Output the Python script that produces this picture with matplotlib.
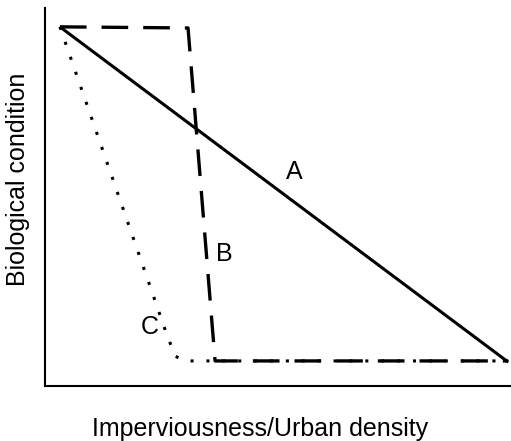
import matplotlib
matplotlib.use("Agg")
import matplotlib.pyplot as plt

plt.rcParams['font.family'] = ['Liberation Sans', 'DejaVu Sans']

# Curve A (linear decline)
a_x = [3.2, 99.4]
a_y = [95.0, 6.3]
# Curve B (threshold)
b_x = [3.2, 30.7, 36.5, 99.4]
b_y = [95.0, 94.7, 6.6, 6.6]
# Curve C (rapid early decline)
c_x = [3.2, 25.8, 27.9, 30.0, 99.4]
c_y = [95.0, 14.8, 7.9, 6.6, 6.6]

labels = ["A", "B", "C"]
label_x = [53.6, 38.4, 22.5]
label_y = [56.6, 34.9, 15.6]

fig = plt.figure(figsize=(5.11, 4.41), dpi=100)
ax = fig.add_axes([0.088, 0.125, 0.912, 0.857])

ax.plot(a_x, a_y, color='black', lw=2.2, solid_capstyle='butt')
ax.plot(b_x, b_y, color='black', lw=2.4, dashes=(8.0, 4.5))
ax.plot(c_x, c_y, color='black', lw=2.2, dashes=(1.0, 4.2))

for t, x, y in zip(labels, label_x, label_y):
    ax.text(x, y, t, fontsize=18, ha='center', va='center', color='black')

ax.set_xlim(0, 100)
ax.set_ylim(0, 100)
ax.set_xticks([])
ax.set_yticks([])
for s in ['top', 'right']:
    ax.spines[s].set_visible(False)
for s in ['left', 'bottom']:
    ax.spines[s].set_linewidth(1.5)
    ax.spines[s].set_color('black')

ax.set_xlabel('Imperviousness/Urban density', fontsize=18)
ax.set_ylabel('Biological condition', fontsize=18)
ax.xaxis.set_label_coords(0.509, 0.012, transform=fig.transFigure)
ax.xaxis.label.set_va('baseline')
ax.yaxis.set_label_coords(0.036, 0.594, transform=fig.transFigure)
ax.yaxis.label.set_va('center')

fig.savefig('out.png', dpi=100)
